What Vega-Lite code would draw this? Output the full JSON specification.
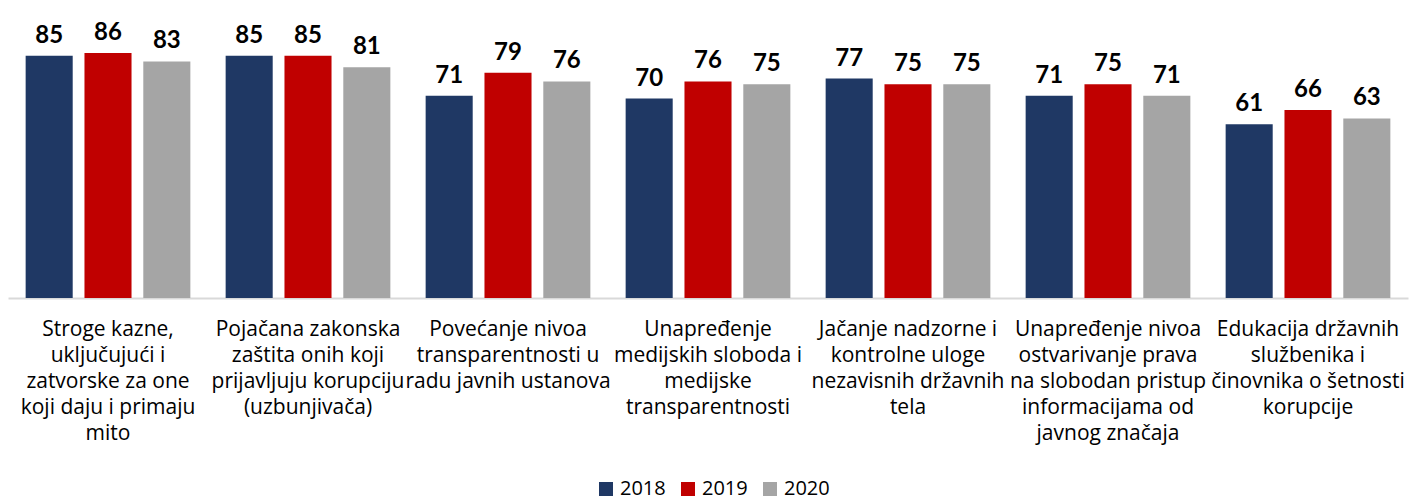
{
  "$schema": "https://vega.github.io/schema/vega-lite/v6.json",
  "autosize": "none",
  "width": 1400,
  "height": 285,
  "padding": {"left": 8, "top": 13, "right": 2, "bottom": 201},
  "background": "white",
  "config": {"view": {"stroke": null}, "font": "Open Sans"},
  "data": {
    "values": [
      {"cat": "Stroge kazne,|uključujući i|zatvorske za one|koji daju i primaju|mito", "year": "2018", "value": 85},
      {"cat": "Stroge kazne,|uključujući i|zatvorske za one|koji daju i primaju|mito", "year": "2019", "value": 86},
      {"cat": "Stroge kazne,|uključujući i|zatvorske za one|koji daju i primaju|mito", "year": "2020", "value": 83},
      {"cat": "Pojačana zakonska|zaštita onih koji|prijavljuju korupciju|(uzbunjivača)", "year": "2018", "value": 85},
      {"cat": "Pojačana zakonska|zaštita onih koji|prijavljuju korupciju|(uzbunjivača)", "year": "2019", "value": 85},
      {"cat": "Pojačana zakonska|zaštita onih koji|prijavljuju korupciju|(uzbunjivača)", "year": "2020", "value": 81},
      {"cat": "Povećanje nivoa|transparentnosti u|radu javnih ustanova", "year": "2018", "value": 71},
      {"cat": "Povećanje nivoa|transparentnosti u|radu javnih ustanova", "year": "2019", "value": 79},
      {"cat": "Povećanje nivoa|transparentnosti u|radu javnih ustanova", "year": "2020", "value": 76},
      {"cat": "Unapređenje|medijskih sloboda i|medijske|transparentnosti", "year": "2018", "value": 70},
      {"cat": "Unapređenje|medijskih sloboda i|medijske|transparentnosti", "year": "2019", "value": 76},
      {"cat": "Unapređenje|medijskih sloboda i|medijske|transparentnosti", "year": "2020", "value": 75},
      {"cat": "Jačanje nadzorne i|kontrolne uloge|nezavisnih državnih|tela", "year": "2018", "value": 77},
      {"cat": "Jačanje nadzorne i|kontrolne uloge|nezavisnih državnih|tela", "year": "2019", "value": 75},
      {"cat": "Jačanje nadzorne i|kontrolne uloge|nezavisnih državnih|tela", "year": "2020", "value": 75},
      {"cat": "Unapređenje nivoa|ostvarivanje prava|na slobodan pristup|informacijama od|javnog značaja", "year": "2018", "value": 71},
      {"cat": "Unapređenje nivoa|ostvarivanje prava|na slobodan pristup|informacijama od|javnog značaja", "year": "2019", "value": 75},
      {"cat": "Unapređenje nivoa|ostvarivanje prava|na slobodan pristup|informacijama od|javnog značaja", "year": "2020", "value": 71},
      {"cat": "Edukacija državnih|službenika i|činovnika o šetnosti|korupcije", "year": "2018", "value": 61},
      {"cat": "Edukacija državnih|službenika i|činovnika o šetnosti|korupcije", "year": "2019", "value": 66},
      {"cat": "Edukacija državnih|službenika i|činovnika o šetnosti|korupcije", "year": "2020", "value": 63}
    ]
  },
  "encoding": {
    "x": {
      "field": "cat", "type": "nominal", "sort": null,
      "scale": {"paddingInner": 0, "paddingOuter": 0},
      "axis": {
        "title": null, "labelAngle": 0, "ticks": false,
        "domainColor": "#d9d9d9", "domainWidth": 2,
        "labelExpr": "split(datum.label, '|')",
        "labelFont": "Open Sans", "labelFontSize": 21, "labelColor": "#000000",
        "labelLineHeight": 26, "labelPadding": 20, "labelLimit": 0,
        "labelBaseline": "top"
      }
    },
    "xOffset": {"field": "year", "type": "nominal", "scale": {"paddingInner": 0.2, "paddingOuter": 0.3}},
    "y": {"field": "value", "type": "quantitative", "scale": {"domain": [0, 100]}, "axis": null}
  },
  "layer": [
    {
      "mark": {"type": "bar"},
      "encoding": {
        "color": {
          "field": "year", "type": "nominal",
          "scale": {"domain": ["2018", "2019", "2020"], "range": ["#1F3864", "#C00000", "#A5A5A5"]},
          "legend": {
            "title": null, "orient": "none", "direction": "horizontal",
            "legendX": 588, "legendY": 466,
            "symbolType": "square", "symbolSize": 196, "symbolStrokeWidth": 0,
            "labelFont": "Open Sans", "labelFontSize": 20, "labelColor": "#000000",
            "columnPadding": 12, "labelOffset": 4, "padding": 0
          }
        }
      }
    },
    {
      "mark": {"type": "text", "baseline": "bottom", "dy": -8, "font": "Lato", "fontWeight": "bold", "fontSize": 24, "color": "#000000"},
      "encoding": {"text": {"field": "value", "type": "quantitative"}}
    }
  ]
}
